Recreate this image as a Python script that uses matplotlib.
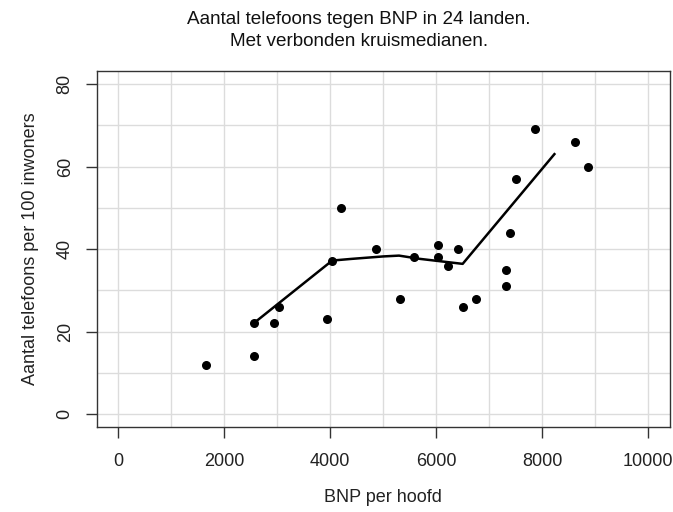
import matplotlib
matplotlib.use("Agg")
import matplotlib.pyplot as plt

plt.rcParams['font.family'] = ['Liberation Sans', 'DejaVu Sans']

# BNP per hoofd en aantal telefoons per 100 inwoners, 24 landen
bnp = [1660, 2560, 2560, 2940, 3030, 3940, 4040, 4200, 4860, 5320, 5590, 6040,
       6040, 6225, 6410, 6500, 6760, 7310, 7310, 7400, 7510, 7860, 8610, 8870]
telefoons = [12, 22, 14, 22, 26, 23, 37, 50, 40, 28, 38, 41,
             38, 36, 40, 26, 28, 35, 31, 44, 57, 69, 66, 60]

# verbonden kruismedianen
med_x = [2560, 4040, 4400, 5000, 5300, 5700, 6500, 8230]
med_y = [22, 37.2, 37.6, 38.2, 38.4, 37.6, 36.4, 63]

x_ticks = [0, 2000, 4000, 6000, 8000, 10000]
y_ticks = [0, 20, 40, 60, 80]

fig = plt.figure(figsize=(6.73, 5.12), dpi=100)
ax = fig.add_axes([0.1437, 0.1656, 0.9948 - 0.1437, 0.8617 - 0.1656])

ax.set_xlim(-400, 10400)
ax.set_ylim(-3.2, 83.2)

# grijs raster om de 1000 en om de 10
for gx in range(0, 10001, 1000):
    ax.axvline(gx, color='#dcdcdc', lw=1, zorder=0)
for gy in range(0, 81, 10):
    ax.axhline(gy, color='#dcdcdc', lw=1, zorder=0)

ax.scatter(bnp, telefoons, s=30, color='black', zorder=3)
ax.plot(med_x, med_y, color='black', lw=1.8, zorder=2)

ax.set_xticks(x_ticks)
ax.set_yticks(y_ticks)
ax.set_xticklabels([str(v) for v in x_ticks])
ax.set_yticklabels([str(v) for v in y_ticks], rotation=90, va='center')
ax.tick_params(direction='out', length=7.6, width=1, labelsize=13,
               color='#333333', labelcolor='#222222')
ax.tick_params(axis='x', pad=11)
ax.tick_params(axis='y', pad=9)
for sp in ax.spines.values():
    sp.set_color('#333333')
    sp.set_linewidth(1)

ax.set_xlabel('BNP per hoofd', fontsize=13, color='#222222')
ax.xaxis.set_label_coords(0.5, -0.1734)
ax.set_ylabel('Aantal telefoons per 100 inwoners', fontsize=13, color='#222222')
ax.yaxis.set_label_coords(-0.101, 0.5)
fig.text(0.533, 0.978, 'Aantal telefoons tegen BNP in 24 landen.\nMet verbonden kruismedianen.',
         ha='center', va='top', fontsize=13.6, linespacing=1.38, color='#111111')

fig.savefig('out.png', dpi=100)
